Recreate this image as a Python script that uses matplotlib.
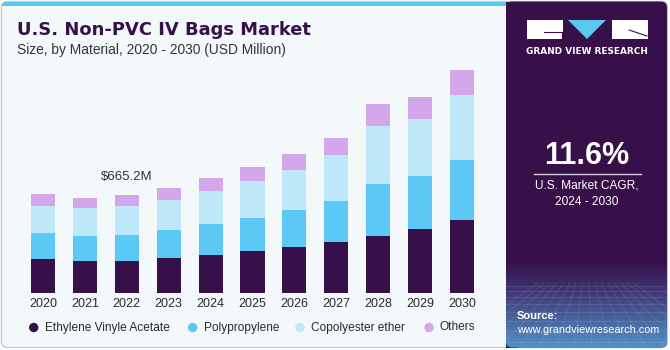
import matplotlib
matplotlib.use('Agg')
import matplotlib.pyplot as plt
import numpy as np
from matplotlib.patches import FancyBboxPatch, Rectangle, Polygon, Circle

# ---------------- data ----------------
years = ['2020', '2021', '2022', '2023', '2024', '2025', '2026', '2027', '2028', '2029', '2030']
eva = [232, 221, 221, 239, 261, 284, 313, 345, 386, 435, 496]
polypropylene = [174, 169, 176, 192, 208, 225, 250, 282, 356, 361, 408]
copolyester = [183, 185, 192, 203, 225, 250, 273, 307, 388, 384, 436]
others = [83, 70, 76, 79, 88, 93, 108, 115, 149, 149, 171]
series_names = ['Ethylene Vinyle Acetate', 'Polypropylene', 'Copolyester ether', 'Others']
colors = ['#37104a', '#5bc8f5', '#bde8f8', '#d4a6ea']
annot_year = '2022'
annot_text = '$665.2M'
title = 'U.S. Non-PVC IV Bags Market'
subtitle = 'Size, by Material, 2020 - 2030 (USD Million)'
cagr_value = '11.6%'
cagr_label = 'U.S. Market CAGR,\n2024 - 2030'

plt.rcParams['font.family'] = ['Liberation Sans', 'DejaVu Sans']

W, H = 670, 350
fig = plt.figure(figsize=(6.7, 3.5), dpi=100, facecolor='white')

# background axes in pixel coordinates
bg = fig.add_axes([0, 0, 1, 1])
bg.axis('off')

outer = FancyBboxPatch((1.5, 1.5), 666, 346, boxstyle='round,pad=0,rounding_size=6',
                       fc='#f3f8fb', ec='#c8ccd0', lw=1.0, zorder=0)
bg.add_patch(outer)
strip = Rectangle((1.5, 1.5), 506, 4.5, fc='#5bc8f0', ec='none', zorder=1)
bg.add_patch(strip)
strip.set_clip_path(outer)

PANEL_X = 506
panel = FancyBboxPatch((PANEL_X, 1.5), 161, 346, boxstyle='round,pad=0,rounding_size=6',
                       fc='#37104a', ec='none', zorder=2)
bg.add_patch(panel)
bg.add_patch(Rectangle((PANEL_X, 1.5), 12, 346, fc='#37104a', ec='none', zorder=2))

# bottom gradient of the panel
ny = 100
t = np.linspace(0, 1, ny)
c0 = np.array([0x37, 0x10, 0x4a]) / 255
c1 = np.array([0x3e, 0x2e, 0x6c]) / 255
c2 = np.array([0x52, 0x92, 0xc8]) / 255
grad = np.zeros((ny, 2, 3))
for i, tt in enumerate(t):
    if tt < 0.12:
        c = c0
    elif tt < 0.36:
        f = (tt - 0.12) / 0.24
        c = c0 + (c1 - c0) * f
    else:
        f = (tt - 0.36) / 0.64
        c = c1 + (c2 - c1) * f
    grad[i, :, :] = c
im = bg.imshow(grad, extent=(PANEL_X, 667, 348, 250), origin='upper', aspect='auto', zorder=3)
im.set_clip_path(panel)
# faint grid texture
for yy in [286, 291, 297, 304, 312, 321, 331, 342]:
    ln, = bg.plot([PANEL_X, 667], [yy, yy], color='white', alpha=0.12, lw=0.6, zorder=4)
    ln.set_clip_path(panel)
for xx in np.linspace(PANEL_X - 60, 720, 16):
    ln, = bg.plot([587 + (xx - 587) * 0.35, xx], [283, 348], color='white', alpha=0.10, lw=0.6, zorder=4)
    ln.set_clip_path(panel)

# logo
bg.add_patch(Rectangle((527, 20), 36, 19, fc='white', ec='none', zorder=5))
bg.plot([544, 562], [32, 32], color='#37104a', lw=0.8, zorder=6)
bg.plot([562, 562], [32, 39], color='#37104a', lw=0.8, zorder=6)
bg.add_patch(Polygon([(568, 20), (606, 20), (587, 39)], closed=True, fc='#5bc8f0', ec='none', zorder=5))
bg.add_patch(Rectangle((612, 20), 36, 19, fc='white', ec='none', zorder=5))
bg.plot([629, 647], [30, 36], color='#37104a', lw=0.8, zorder=6)
bg.text(587, 51, 'GRAND VIEW RESEARCH', color='white', fontsize=6.4, fontweight='bold',
        ha='center', va='center', zorder=6, family=['DejaVu Sans'])

# CAGR
bg.text(587, 156, cagr_value, color='white', fontsize=22, fontweight='bold',
        ha='center', va='center', zorder=6)
bg.plot([534, 641], [174, 174], color='#d8d0e0', lw=1.0, zorder=6)
bg.text(587, 194, cagr_label, color='white', fontsize=8.6, ha='center', va='center',
        linespacing=1.5, zorder=6)
bg.text(517, 316, 'Source:', color='white', fontsize=8, fontweight='bold',
        ha='left', va='center', zorder=6)
bg.text(517, 330, 'www.grandviewresearch.com', color='white', fontsize=7.8,
        ha='left', va='center', zorder=6)

# title
bg.text(17, 34.7, title, color='#37104a', fontsize=12.85, fontweight='bold',
        ha='left', va='baseline', family=['DejaVu Sans'], zorder=6)
bg.text(17, 54, subtitle, color='#333333', fontsize=9.9, ha='left', va='baseline', zorder=6)

# legend
legend_marker_x = [33.7, 192.7, 300, 429]
legend_text_x = [45, 203.7, 310.7, 440]
for name, col, mx, tx in zip(series_names, colors, legend_marker_x, legend_text_x):
    bg.add_patch(Circle((mx, 327.5), 4.7, fc=col, ec='none', zorder=6))
    bg.text(tx, 327.5, name, color='#2b2b2b', fontsize=8.6, ha='left', va='center', zorder=6)

bg.set_xlim(0, W)
bg.set_ylim(H, 0)

# ---------------- chart ----------------
base_px = 293.3
top_px = 60
px_per_unit = 98.3 / 665.2
ax = fig.add_axes([0, (H - base_px) / H, 500 / W, (base_px - top_px) / H])
ax.set_facecolor('none')
x = np.arange(len(years))
bottom = np.zeros(len(years))
for vals, col in zip([eva, polypropylene, copolyester, others], colors):
    ax.bar(x, vals, width=0.573, bottom=bottom, color=col, edgecolor='none', zorder=3)
    bottom += np.array(vals)

ax.set_ylim(0, (base_px - top_px) / px_per_unit)
spacing = 41.9
ax.set_xlim(-43 / spacing, (500 - 43) / spacing)
ax.set_xticks(x)
ax.set_xticklabels(years, fontsize=9, color='#2b2b2b')
ax.tick_params(axis='x', length=0, pad=3.5)
ax.set_yticks([])
for s in ax.spines.values():
    s.set_visible(False)

ai = years.index(annot_year)
ax.annotate(annot_text, (ai, bottom[ai]), xytext=(0, 11), textcoords='offset points',
            ha='center', va='baseline', fontsize=9.5, color='#333333')

fig.savefig('out.png', dpi=100, facecolor='white')
